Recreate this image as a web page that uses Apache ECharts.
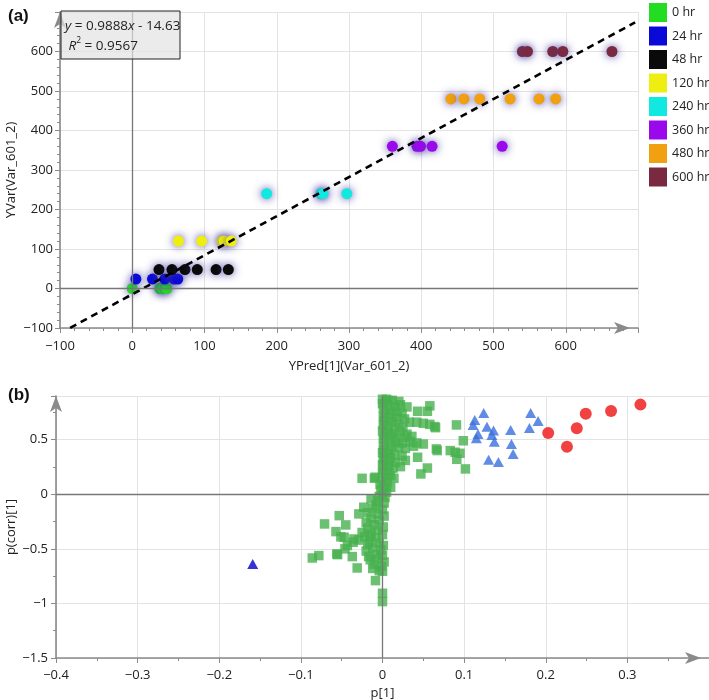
<!DOCTYPE html>
<html><head><meta charset="utf-8">
<script src="https://cdn.jsdelivr.net/npm/echarts/dist/echarts.min.js"></script>
<style>html,body{margin:0;padding:0;background:#fff}#c{width:709px;height:700px}</style>
</head><body><div id="c"></div>
<script>
// ---------- Panel (a) data ----------
const timeLabels = ['0 hr','24 hr','48 hr','120 hr','240 hr','360 hr','480 hr','600 hr'];
const timeColors = ['#22dd22','#0a0ad8','#0a0a0a','#eeee10','#10e8e0','#9a08ec','#f0a010','#7a2a40'];
const yVar = [0, 24, 48, 120, 240, 360, 480, 600];
const yPred0   = [0, 38, 42, 48];
const yPred24  = [5, 28, 45, 58, 63];
const yPred48  = [37, 55, 73, 90, 116, 133];
const yPred120 = [64, 96, 124, 127, 137];
const yPred240 = [186, 261, 264, 297];
const yPred360 = [360, 394, 399, 415, 512];
const yPred480 = [441, 459, 481, 523, 563, 586];
const yPred600 = [540, 547, 582, 596, 664];
const yPredAll = [yPred0, yPred24, yPred48, yPred120, yPred240, yPred360, yPred480, yPred600];
const fitLine = [[-86, -99.7], [696, 673.6]];

// ---------- Panel (b) data ----------
const redCircles = [[0.203,0.561],[0.226,0.436],[0.238,0.604],[0.249,0.738],[0.280,0.763],[0.316,0.821]];
const blueTriangles = [[0.124,0.745],[0.113,0.680],[0.111,0.635],[0.128,0.619],[0.136,0.583],[0.117,0.552],
  [0.115,0.513],[0.134,0.543],[0.137,0.482],[0.157,0.589],[0.158,0.461],[0.160,0.369],[0.130,0.317],
  [0.142,0.296],[0.1815,0.745],[0.1906,0.671],[0.180,0.607]];
const darkTriangle = [[-0.159,-0.638]];
const greenSquares = [
  [0.000,0.87],[0.005,0.87],[0.012,0.86],[0.020,0.85],[0.008,0.857],[0.000,0.83],[0.006,0.82],[0.015,0.80],
  [0.022,0.82],[0.001,0.79],[0.009,0.77],[0.018,0.76],[0.003,0.74],[0.012,0.73],[0.024,0.74],[0.001,0.71],
  [0.008,0.70],[0.017,0.70],[0.027,0.69],[0.002,0.67],[0.011,0.66],[0.020,0.65],[0.033,0.66],[0.042,0.66],
  [0.050,0.65],[0.058,0.64],[0.064,0.62],[0.001,0.63],[0.007,0.62],[0.015,0.61],[0.025,0.61],
  [0.043,0.76],[0.055,0.76],[0.058,0.81],[0.030,0.80],
  [0.000,0.58],[0.006,0.57],[0.013,0.56],[0.022,0.57],[0.030,0.55],[0.002,0.54],[0.010,0.53],[0.018,0.52],
  [0.028,0.52],[0.036,0.53],[0.001,0.50],[0.008,0.49],[0.016,0.48],[0.024,0.47],[0.034,0.48],[0.042,0.47],
  [0.050,0.46],[0.002,0.45],[0.012,0.44],[0.020,0.43],[0.028,0.42],[0.038,0.44],[0.001,0.41],[0.009,0.40],
  [0.066,0.415],[0.067,0.40],[0.083,0.40],[0.089,0.385],[0.095,0.375],[0.091,0.32],[0.099,0.49],
  [0.0906,0.635],[0.1016,0.232],[0.065,0.61],
  [0.000,0.38],[0.007,0.37],[0.015,0.36],[0.024,0.35],[0.002,0.34],[0.010,0.33],[0.043,0.339],[0.001,0.31],
  [0.008,0.30],[0.016,0.29],[0.028,0.31],[0.000,0.27],[0.006,0.26],[0.022,0.253],[0.013,0.24],[0.055,0.24],
  [0.001,0.22],[0.008,0.21],[0.047,0.186],[0.000,0.19],[0.010,0.17],[0.004,0.15],[0.014,0.146],
  [-0.025,0.146],[-0.010,0.146],[-0.009,0.156],
  [0.000,0.12],[0.006,0.11],[-0.003,0.09],[0.010,0.064],[0.003,0.06],[-0.002,0.04],[0.005,0.02],[0.000,0.00],
  [-0.004,-0.02],[0.003,-0.03],[-0.014,-0.043],[-0.006,-0.06],[0.002,-0.08],[-0.008,-0.10],
  [-0.023,-0.119],[-0.012,-0.13],[0.000,-0.14],[-0.029,-0.18],[-0.018,-0.17],[-0.006,-0.18],[0.002,-0.20],
  [-0.053,-0.196],[-0.014,-0.22],[-0.004,-0.24],[-0.020,-0.26],[-0.071,-0.272],[-0.045,-0.281],[-0.010,-0.28],
  [0.001,-0.30],[-0.018,-0.31],[-0.006,-0.33],[-0.057,-0.342],[-0.025,-0.35],[-0.014,-0.36],[0.000,-0.37],
  [-0.047,-0.394],[-0.035,-0.41],[-0.022,-0.39],[-0.008,-0.40],[-0.051,-0.39],
  [-0.043,-0.47],[-0.036,-0.44],[-0.029,-0.42],[-0.015,-0.38],
  [-0.016,-0.44],[-0.004,-0.45],[0.001,-0.47],[-0.012,-0.49],[-0.002,-0.51],[-0.018,-0.46],[-0.020,-0.52],
  [-0.056,-0.547],[-0.046,-0.50],[-0.055,-0.553],[-0.037,-0.571],[-0.086,-0.584],[-0.078,-0.562],
  [-0.015,-0.60],[-0.008,-0.55],[0.000,-0.56],[-0.005,-0.59],[0.002,-0.62],[-0.010,-0.64],[-0.017,-0.57],
  [-0.001,-0.66],[-0.012,-0.68],[-0.004,-0.70],[-0.031,-0.675],[0.000,-0.705],[-0.0086,-0.791],
  [0.000,-0.907],[0.000,-0.983]
];

const FONT = 'Open Sans';
const TXT = '#222';
const fmt = v => String(parseFloat(Number(v).toFixed(3))).replace('-', '\u2212');
const tickGray = '#8a8a8a';
function makeAxis(o) {
  return {
    type: 'value', gridIndex: o.grid, min: o.min, max: o.max, interval: o.interval,
    axisLine: { show: true, onZero: false, lineStyle: { color: tickGray, width: 1.6 },
      symbol: ['none', 'arrow'], symbolSize: [9, 16], symbolOffset: [0, o.arrowOffset] },
    axisTick: { show: true, length: 5, lineStyle: { color: tickGray } },
    minorTick: { show: true, splitNumber: o.minor, length: 3, lineStyle: { color: tickGray } },
    splitLine: { show: true, lineStyle: { color: '#e3e3e3', width: 1 } },
    axisLabel: { showMaxLabel: false, color: TXT, fontSize: 13, fontFamily: FONT, formatter: fmt, margin: o.margin },
    name: o.name, nameLocation: 'middle', nameGap: o.nameGap, nameMoveOverlap: false,
    nameTextStyle: { color: TXT, fontSize: 13, fontFamily: FONT }
  };
}

const originLines = (xi, yi) => ({
  type: 'scatter', xAxisIndex: xi, yAxisIndex: yi, data: [], z: 1, silent: true,
  markLine: { silent: true, symbol: 'none', label: { show: false }, animation: false,
    lineStyle: { color: '#777', type: 'solid', width: 1.3 }, data: [{ xAxis: 0 }, { yAxis: 0 }] }
});

const seriesA = timeLabels.map((name, i) => ({
  name, type: 'scatter', xAxisIndex: 0, yAxisIndex: 0, z: 3,
  symbol: 'circle', symbolSize: 11,
  itemStyle: { color: timeColors[i], opacity: 1, shadowBlur: 9, shadowColor: 'rgba(70,60,160,0.9)' },
  data: yPredAll[i].map(x => [x, yVar[i]])
}));

const F14 = '13.5px "Open Sans"';
const option = {
  animation: false,
  backgroundColor: '#fff',
  textStyle: { fontFamily: FONT },
  grid: [
    { left: 60, top: 12, width: 578, height: 316, containLabel: false, outerBoundsMode: 'none' },
    { left: 56, top: 396, width: 653, height: 262, containLabel: false, outerBoundsMode: 'none' }
  ],
  xAxis: [
    makeAxis({ grid: 0, min: -100, max: 700, interval: 100, minor: 5, arrowOffset: -8, margin: 12, name: 'YPred[1](Var_601_2)', nameGap: 32 }),
    makeAxis({ grid: 1, min: -0.4, max: 0.4, interval: 0.1, minor: 2, arrowOffset: -8, margin: 11, name: 'p[1]', nameGap: 29 })
  ],
  yAxis: [
    makeAxis({ grid: 0, min: -100, max: 700, interval: 100, minor: 5, arrowOffset: 0, margin: 7, name: 'YVar(Var_601_2)', nameGap: 42 }),
    makeAxis({ grid: 1, min: -1.5, max: 0.9, interval: 0.5, minor: 2, arrowOffset: 0, margin: 8, name: 'p(corr)[1]', nameGap: 38 })
  ],
  legend: {
    data: timeLabels, orient: 'vertical', left: 649, top: 3, padding: 0, itemWidth: 18, itemHeight: 19, itemGap: 4.5,
    icon: 'rect', itemStyle: { shadowBlur: 0, shadowColor: 'transparent' },
    textStyle: { color: TXT, fontSize: 12.5, fontFamily: FONT }
  },
  graphic: [
    { type: 'text', left: 8, top: 8, style: { text: '(a)', font: 'bold 17px "Liberation Sans"', fill: '#111' } },
    { type: 'text', left: 8, top: 387, style: { text: '(b)', font: 'bold 17px "Liberation Sans"', fill: '#111' } },
    { type: 'rect', z: 10, shape: { x: 61, y: 11, width: 119, height: 48 },
      style: { fill: 'rgba(226,226,226,0.7)', stroke: '#222', lineWidth: 1 } },
    { type: 'text', z: 11, x: 65, y: 16,
      style: { text: '{i|y}{d| = 0.9888}{i|x}{d| - 14.63}\n{d| }{i|R}{s|2}{d| = 0.9567}', fill: TXT, font: F14, lineHeight: 20,
        rich: { d: { font: F14, fill: TXT, lineHeight: 20 },
                i: { font: 'italic ' + F14, fill: TXT, lineHeight: 20 },
                s: { font: '8.5px "Open Sans"', fill: TXT, verticalAlign: 'top', lineHeight: 20, padding: [0, 0, 7, 0] } } } }
  ],
  series: [
    originLines(0, 0),
    ...seriesA,
    { type: 'line', xAxisIndex: 0, yAxisIndex: 0, z: 4, data: fitLine, symbol: 'none', silent: true,
      lineStyle: { color: '#000', width: 2.6, type: [7, 5] } },
    originLines(1, 1),
    { type: 'scatter', xAxisIndex: 1, yAxisIndex: 1, z: 3, symbol: 'rect', symbolSize: 9.5,
      itemStyle: { color: '#47b04e' }, data: greenSquares },
    { type: 'scatter', xAxisIndex: 1, yAxisIndex: 1, z: 3, symbol: 'triangle', symbolSize: [11, 10],
      itemStyle: { color: '#3a6fdc' }, data: blueTriangles },
    { type: 'scatter', xAxisIndex: 1, yAxisIndex: 1, z: 3, symbol: 'circle', symbolSize: 12,
      itemStyle: { color: '#ee1111' }, data: redCircles },
    { type: 'scatter', xAxisIndex: 1, yAxisIndex: 1, z: 3, symbol: 'triangle', symbolSize: [11, 10],
      itemStyle: { color: '#0000cc' }, data: darkTriangle }
  ]
};
const chart = echarts.init(document.getElementById('c'), null, { renderer: 'canvas' });
chart.setOption(option);
</script></body></html>
